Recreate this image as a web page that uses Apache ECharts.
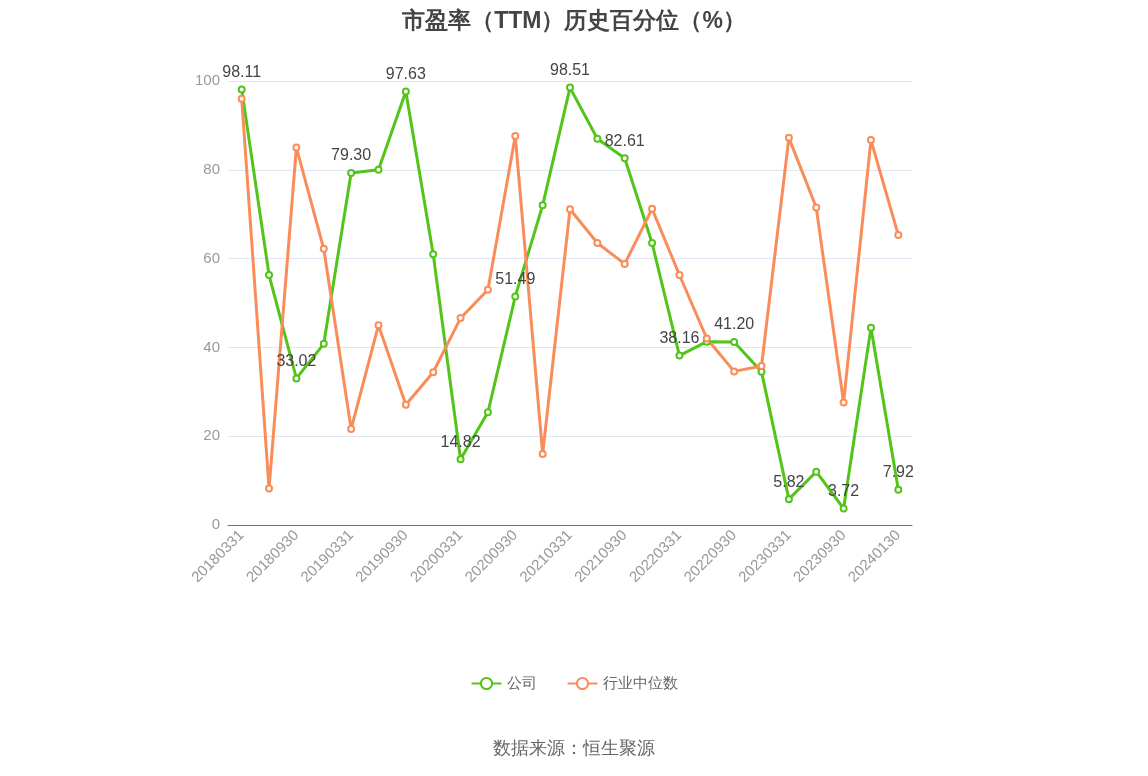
<!DOCTYPE html>
<html><head><meta charset="utf-8">
<script src="https://cdn.jsdelivr.net/npm/echarts@6/dist/echarts.min.js"></script>
<style>html,body{margin:0;padding:0;background:#fff}#c{width:1148px;height:776px}</style>
</head><body><div id="c"></div>
<script>
const categories=["20180331","20180630","20180930","20181231","20190331","20190630","20190930","20191231","20200331","20200630","20200930","20201231","20210331","20210630","20210930","20211231","20220331","20220630","20220930","20221231","20230331","20230630","20230930","20231231","20240130"];
const company=[98.11,56.3,33.02,40.8,79.30,80.0,97.63,61.0,14.82,25.4,51.49,72.0,98.51,87.0,82.61,63.5,38.16,41.3,41.20,34.5,5.82,12.0,3.72,44.4,7.92];
const industry=[96.0,8.2,85.0,62.2,21.6,45.0,27.1,34.4,46.6,53.0,87.6,16.0,71.1,63.5,58.8,71.2,56.3,42.0,34.6,35.8,87.2,71.5,27.6,86.7,65.3];
const yTicks=[0,20,40,60,80,100];
const chart=echarts.init(document.getElementById('c'));
chart.setOption({
 title:{text:'市盈率（TTM）历史百分位（%）',left:'center',top:5,textStyle:{fontSize:23,fontWeight:'bold',color:'#444'}},
 grid:{left:228,right:236,top:81,bottom:251},
 legend:{bottom:80,itemWidth:30,itemHeight:14,itemGap:30,textStyle:{fontSize:15,color:'#666'},data:['公司','行业中位数']},
 graphic:[{type:'text',left:'center',bottom:18,style:{text:'数据来源：恒生聚源',fontSize:18,fill:'#666'}}],
 xAxis:{type:'category',data:categories,boundaryGap:true,
  axisLine:{lineStyle:{color:'#6e7079'}},axisTick:{alignWithLabel:true,interval:1},
  axisLabel:{rotate:45,interval:1,fontSize:15,color:'#999'}},
 yAxis:{type:'value',min:yTicks[0],max:yTicks[yTicks.length-1],interval:20,
  axisLabel:{fontSize:15,color:'#999'},splitLine:{lineStyle:{color:'#e0e6f1'}}},
 series:[
  {name:'公司',type:'line',data:company,symbol:'emptyCircle',symbolSize:6,itemStyle:{color:'#52c41a',borderWidth:2},
   lineStyle:{width:3,color:'#52c41a'},
   label:{show:true,fontSize:16,color:'#444',position:'top',formatter:p=>p.dataIndex%2===0?p.value.toFixed(2):''}},
  {name:'行业中位数',type:'line',data:industry,symbol:'emptyCircle',symbolSize:6,itemStyle:{color:'#fa8c5a',borderWidth:2},
   lineStyle:{width:3,color:'#fa8c5a'}}
 ]
});
</script></body></html>
